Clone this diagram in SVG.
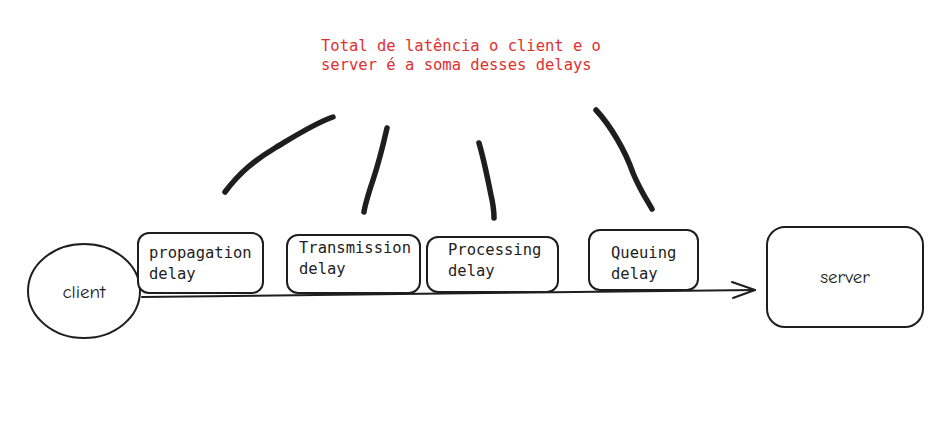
<svg xmlns="http://www.w3.org/2000/svg" width="943" height="422" viewBox="0 0 943 422">
<style>
.box{fill:#fff;stroke:#1e1e1e;stroke-width:2;}
.t{font-family:"DejaVu Sans Mono","Liberation Mono",monospace;font-size:15.5px;fill:#1e1e1e;}
.red{font-family:"DejaVu Sans Mono","Liberation Mono",monospace;font-size:15.5px;fill:#e03131;}
.hand{font-family:"Comic Neue","Open Sans",sans-serif;font-size:19px;fill:#1e1e1e;text-anchor:middle;}
.mark{fill:none;stroke:#1e1e1e;stroke-width:5.5;stroke-linecap:round;stroke-linejoin:round;}
.line{fill:none;stroke:#1e1e1e;stroke-width:2;stroke-linecap:round;stroke-linejoin:round;}
</style>
<rect width="943" height="422" fill="#fff"/>
<g id="note">
<text class="red" x="321" y="51">Total de latência o client e o</text>
<text class="red" x="321" y="70">server é a soma desses delays</text>
</g>
<g id="marks">
<path class="mark" d="M225,192 C240,172 255,160 275,148 C295,136 315,123 333,117"/>
<path class="mark" d="M387,128 C382,150 378,165 373,180 C368,195 365,205 364,212"/>
<path class="mark" d="M479,143 C484,160 488,180 491,195 C494,208 494,214 494,218"/>
<path class="mark" d="M596,110 C610,125 625,150 633,173 C640,190 648,202 652,209"/>
</g>
<g id="connectors">
<path class="line" d="M142,297 L400,294 L755,290"/>
<path class="line" d="M732,282 L755,290 L733,298"/>
</g>
<g id="client">
<ellipse class="box" cx="84" cy="291" rx="56" ry="47"/>
<text class="hand" x="84" y="298">client</text>
</g>
<g id="propagation">
<rect class="box" x="138" y="233" width="125" height="60" rx="11"/>
<text class="t" x="149" y="258">propagation</text>
<text class="t" x="149" y="279">delay</text>
</g>
<g id="transmission">
<rect class="box" x="287" y="235" width="133" height="58" rx="11"/>
<text class="t" x="299" y="253">Transmission</text>
<text class="t" x="299" y="274">delay</text>
</g>
<g id="processing">
<rect class="box" x="427" y="237" width="131" height="55" rx="11"/>
<text class="t" x="448" y="255">Processing</text>
<text class="t" x="448" y="276">delay</text>
</g>
<g id="queuing">
<rect class="box" x="589" y="230" width="109" height="60" rx="11"/>
<text class="t" x="611" y="258">Queuing</text>
<text class="t" x="611" y="279">delay</text>
</g>
<g id="server">
<rect class="box" x="767" y="227" width="156" height="100" rx="18"/>
<text class="hand" x="845" y="283">server</text>
</g>
</svg>
